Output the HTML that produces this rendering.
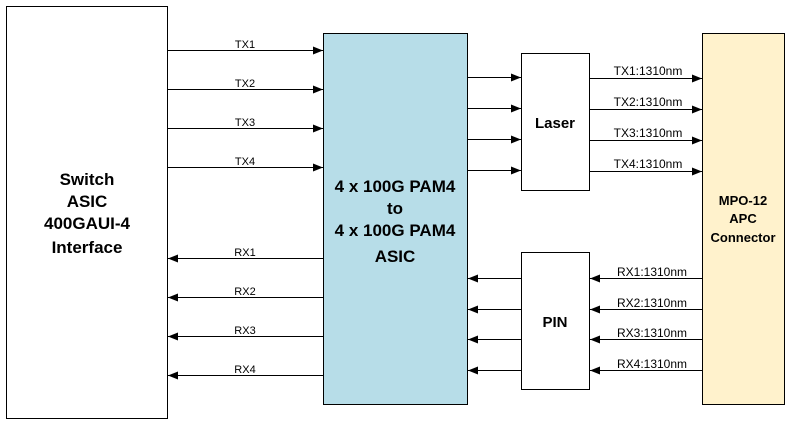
<!DOCTYPE html>
<html><head><meta charset="utf-8"><style>
html,body{margin:0;padding:0;background:#fff;}
svg{display:block;font-family:"Liberation Sans",Arial,sans-serif;}
.l{font-size:11px;fill:#000;}
.w{font-size:12px;fill:#000;}
</style></head><body>
<svg width="788" height="423" viewBox="0 0 788 423">
<defs>
<marker id="a" markerWidth="10" markerHeight="8" refX="10" refY="4" orient="auto" markerUnits="userSpaceOnUse">
<path d="M0,0 L10,4 L0,8 Z" fill="#000"/></marker>
</defs>
<rect x="6.5" y="6.5" width="161" height="412" fill="#fff" stroke="#000"/>
<rect x="323.5" y="33.5" width="144" height="371" fill="#b7dde8" stroke="#000"/>
<rect x="521.5" y="53.5" width="68" height="137" fill="#fff" stroke="#000"/>
<rect x="521.5" y="252.5" width="68" height="137" fill="#fff" stroke="#000"/>
<rect x="702.5" y="33.5" width="82" height="371" fill="#fff2cc" stroke="#000"/>
<g stroke="#000" stroke-width="1" marker-end="url(#a)">
<line x1="168" y1="50.5" x2="323" y2="50.5"/>
<line x1="168" y1="89.5" x2="323" y2="89.5"/>
<line x1="168" y1="128.5" x2="323" y2="128.5"/>
<line x1="168" y1="167.5" x2="323" y2="167.5"/>
<line x1="323" y1="258.5" x2="168" y2="258.5"/>
<line x1="323" y1="297.5" x2="168" y2="297.5"/>
<line x1="323" y1="336.5" x2="168" y2="336.5"/>
<line x1="323" y1="375.5" x2="168" y2="375.5"/>
<line x1="468" y1="77.5" x2="521" y2="77.5"/>
<line x1="468" y1="108.5" x2="521" y2="108.5"/>
<line x1="468" y1="139.5" x2="521" y2="139.5"/>
<line x1="468" y1="170.5" x2="521" y2="170.5"/>
<line x1="590" y1="78.5" x2="702" y2="78.5"/>
<line x1="590" y1="109.5" x2="702" y2="109.5"/>
<line x1="590" y1="140.5" x2="702" y2="140.5"/>
<line x1="590" y1="171.5" x2="702" y2="171.5"/>
<line x1="702" y1="278.5" x2="590" y2="278.5"/>
<line x1="702" y1="309.5" x2="590" y2="309.5"/>
<line x1="702" y1="339.5" x2="590" y2="339.5"/>
<line x1="702" y1="370.5" x2="590" y2="370.5"/>
<line x1="521" y1="278.5" x2="468" y2="278.5"/>
<line x1="521" y1="309.5" x2="468" y2="309.5"/>
<line x1="521" y1="339.5" x2="468" y2="339.5"/>
<line x1="521" y1="370.5" x2="468" y2="370.5"/>
</g>
<g class="l" text-anchor="middle">
<text x="245" y="48">TX1</text><text x="245" y="87">TX2</text>
<text x="245" y="126">TX3</text><text x="245" y="165">TX4</text>
<text x="245" y="256">RX1</text><text x="245" y="295">RX2</text>
<text x="245" y="334">RX3</text><text x="245" y="373">RX4</text>
</g>
<g class="w" text-anchor="middle">
<text x="648" y="75">TX1:1310nm</text><text x="648" y="106">TX2:1310nm</text>
<text x="648" y="137">TX3:1310nm</text><text x="648" y="168">TX4:1310nm</text>
<text x="652" y="276">RX1:1310nm</text><text x="652" y="307">RX2:1310nm</text>
<text x="652" y="337">RX3:1310nm</text><text x="652" y="368">RX4:1310nm</text>
</g>
<g text-anchor="middle" font-weight="bold" font-size="17">
<text x="87" y="185">Switch</text>
<text x="87" y="207">ASIC</text>
<text x="87" y="229">400GAUI-4</text>
<text x="87" y="253">Interface</text>
</g>
<g text-anchor="middle" font-weight="bold" font-size="17">
<text x="395" y="192">4 x 100G PAM4</text>
<text x="395" y="214">to</text>
<text x="395" y="236">4 x 100G PAM4</text>
<text x="395" y="262">ASIC</text>
</g>
<g text-anchor="middle" font-weight="bold" font-size="15">
<text x="555" y="128">Laser</text>
<text x="555" y="327">PIN</text>
</g>
<g text-anchor="middle" font-weight="bold" font-size="13">
<text x="743" y="205">MPO-12</text>
<text x="743" y="223">APC</text>
<text x="743" y="242">Connector</text>
</g>
</svg>
</body></html>
